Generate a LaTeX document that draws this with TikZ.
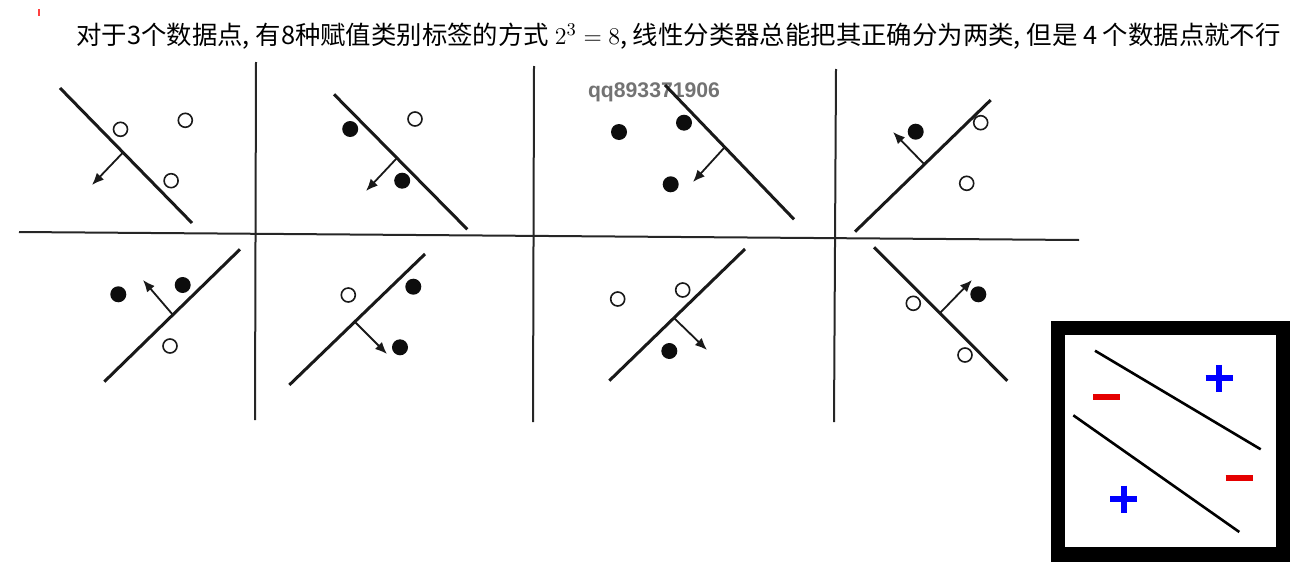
\documentclass[tikz,border=0pt]{standalone}
\usepackage{fontspec}
\newfontfamily\cjk{Noto Sans CJK SC}
\newfontfamily\wmark{Liberation Sans}
\usetikzlibrary{arrows.meta}

\tikzset{
  sepline/.style={line width=1pt, draw=black!85},
  clsline/.style={line width=1.5pt, draw=black!90},
  normal/.style={line width=0.9pt, draw=black!90, -{Latex[length=6pt,width=5pt]}},
  opnpt/.style={circle, draw=black!90, line width=0.8pt, fill=white, inner sep=0pt, minimum size=7pt},
  fulpt/.style={circle, fill=black!95, inner sep=0pt, minimum size=8pt},
  plusbar/.style={line width=3pt, draw=blue},
  minusbar/.style={line width=3pt, draw=red!90!black},
}

\begin{document}
\begin{tikzpicture}[x=0.5pt,y=-0.5pt]
 \useasboundingbox (0,0) rectangle (1290,562);
 \draw[red!75!white, line width=0.6pt] (39,9) -- (39,16);
 \node[anchor=west, inner sep=0pt] (title) at (76,36)
   {\cjk\fontsize{12.7pt}{14pt}\selectfont 对于3个数据点, 有8种赋值类别标签的方式 $2^3 = 8$, 线性分类器总能把其正确分为两类, 但是 4 个数据点就不行};
 \node[inner sep=0pt, text=black!55] (wm) at (654,92)
   {\wmark\bfseries\fontsize{10.6pt}{12pt}\selectfont qq893371906};

 % grid
 \draw[sepline] (19,232) -- (1079,240);
 \draw[sepline] (256,62) -- (255,420);
 \draw[sepline] (534,66) -- (533,422);
 \draw[sepline] (836,69) -- (834,422);

 % top row
 \draw[clsline] (60,88) -- (192,223);
 \draw[normal] (123,152.5) -- (92,185);
 \node[opnpt] (a1) at (120.5,129.3) {};
 \node[opnpt] (a2) at (185.3,120.3) {};
 \node[opnpt] (a3) at (171.1,180.7) {};

 \draw[clsline] (334,94.3) -- (467.3,229.3);
 \draw[normal] (397,158) -- (366,191);
 \node[fulpt] (b1) at (350.2,129) {};
 \node[opnpt] (b2) at (415,119) {};
 \node[fulpt] (b3) at (402.2,180.7) {};

 \draw[clsline] (665,85) -- (794,219.3);
 \draw[normal] (724,148) -- (693,182);
 \node[fulpt] (c1) at (619,132) {};
 \node[fulpt] (c2) at (684,122.7) {};
 \node[fulpt] (c3) at (670.7,184.3) {};

 \draw[clsline] (855,231.7) -- (990.7,100);
 \draw[normal] (924,164) -- (893,132);
 \node[fulpt] (d1) at (915.7,131.7) {};
 \node[opnpt] (d2) at (980.7,122.7) {};
 \node[opnpt] (d3) at (966.7,183.3) {};

 % bottom row
 \draw[clsline] (104.3,381.7) -- (240,249.3);
 \draw[normal] (173,315) -- (143,280);
 \node[fulpt] (e1) at (118.3,294.3) {};
 \node[fulpt] (e2) at (182.7,285) {};
 \node[opnpt] (e3) at (170,346) {};

 \draw[clsline] (289.3,385) -- (425,254);
 \draw[normal] (355,322) -- (387,354);
 \node[opnpt] (f1) at (348.3,295) {};
 \node[fulpt] (f2) at (413.3,286.7) {};
 \node[fulpt] (f3) at (400,347.3) {};

 \draw[clsline] (609.3,380.7) -- (745,249);
 \draw[normal] (674,318) -- (707,350);
 \node[opnpt] (g1) at (617.7,299) {};
 \node[opnpt] (g2) at (682.7,290) {};
 \node[fulpt] (g3) at (669.3,351) {};

 \draw[clsline] (874,247.3) -- (1007.3,380.7);
 \draw[normal] (940,313) -- (972,280);
 \node[opnpt] (h1) at (913.3,303.3) {};
 \node[fulpt] (h2) at (978.3,294.3) {};
 \node[opnpt] (h3) at (965,355) {};

 % xor box
 \fill[black] (1051,321) rectangle (1290,562);
 \fill[white] (1065,335) rectangle (1276,547);
 \draw[line width=1.3pt] (1095,350.7) -- (1260.7,449.3);
 \draw[line width=1.3pt] (1073.3,415.3) -- (1239.3,532);
 \draw[plusbar] (1205.5,378.3) -- (1232.5,378.3);
 \draw[plusbar] (1219,364.8) -- (1219,391.8);
 \draw[plusbar] (1110.2,499) -- (1137.2,499);
 \draw[plusbar] (1123.7,485.5) -- (1123.7,512.5);
 \draw[minusbar] (1093.2,397.3) -- (1120.2,397.3);
 \draw[minusbar] (1225.5,477.7) -- (1252.5,477.7);
\end{tikzpicture}
\end{document}
